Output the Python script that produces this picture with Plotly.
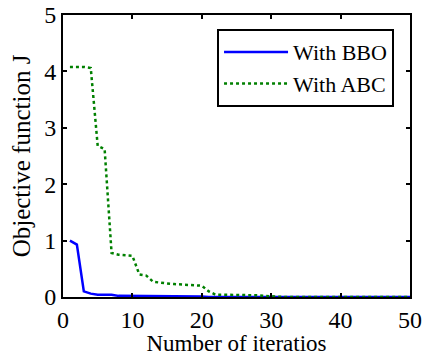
import plotly.graph_objects as go

iters = list(range(1, 51))
bbo = [1.0, 0.93, 0.10, 0.06, 0.04, 0.04, 0.04, 0.02, 0.02, 0.02,
       0.02, 0.02, 0.02, 0.02, 0.02, 0.02, 0.02, 0.02, 0.02, 0.01] + [0.0] * 30
abc = [4.08, 4.08, 4.08, 4.06, 2.68, 2.62, 0.78, 0.75, 0.74, 0.73,
       0.40, 0.38, 0.27, 0.25, 0.24, 0.23, 0.22, 0.21, 0.21, 0.20,
       0.10, 0.04, 0.04, 0.04, 0.04, 0.04, 0.04, 0.03, 0.02, 0.01] + [0.0] * 20

fig = go.Figure()
fig.add_trace(go.Scatter(x=iters, y=bbo, mode="lines", name="With BBO",
                         line=dict(color="#0000ff", width=2.5)))
fig.add_trace(go.Scatter(x=iters, y=abc, mode="lines", name="With ABC",
                         line=dict(color="#008000", width=2.5, dash="dot")))

font = "Liberation Serif"
axis_common = dict(showgrid=False, zeroline=False, showline=True, linecolor="black",
                   linewidth=2, mirror="ticks", ticks="inside", ticklen=4,
                   tickcolor="black", tickwidth=1.5, automargin=False,
                   tickfont=dict(family=font, size=24, color="black"))
fig.update_xaxes(range=[0, 50], dtick=10, title=dict(text="Number of iteratios",
                 font=dict(family=font, size=23, color="black"), standoff=0), **axis_common)
fig.update_yaxes(range=[0, 5], dtick=1, title=dict(text="Objective function J",
                 font=dict(family=font, size=25, color="black"), standoff=6), **axis_common)

fig.update_layout(
    width=422, height=356,
    margin=dict(l=63, r=12, t=15, b=59),
    plot_bgcolor="white", paper_bgcolor="white",
    legend=dict(x=0.954, y=0.95, xanchor="right", yanchor="top",
                bgcolor="white", bordercolor="black", borderwidth=2,
                font=dict(family=font, size=22, color="black"),
                itemwidth=64, tracegroupgap=0),
    showlegend=True,
)
fig.write_html("out.html", config={"displayModeBar": False},
               post_script="document.body.style.margin='0';")
